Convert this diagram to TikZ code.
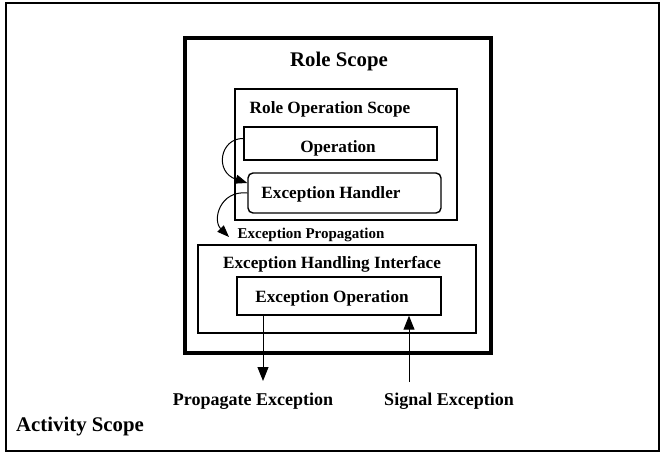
\documentclass[tikz,border=0pt]{standalone}
\usepackage{fontspec}
\setmainfont{Liberation Serif}
\usetikzlibrary{arrows.meta}
\tikzstyle{box} = [draw=black, line width=1.4pt, rectangle, inner sep=0pt]
\tikzstyle{scopebox} = [box, line width=3.2pt]
\tikzstyle{lbl} = [inner sep=0pt, anchor=base, font={\fontsize{17.2}{20}\selectfont\bfseries}]
\tikzstyle{big} = [font={\fontsize{20.8}{24}\selectfont\bfseries}]
\tikzstyle{small} = [font={\fontsize{15}{18}\selectfont\bfseries}]
\tikzstyle{outlbl} = [font={\fontsize{18}{21}\selectfont\bfseries}]
\tikzstyle{flow} = [line width=1pt, -{Triangle[width=11pt,length=14pt]}]
\tikzstyle{curvearrow} = [line width=1pt, -{Triangle[width=9pt,length=12pt]}]

\begin{document}
\begin{tikzpicture}[x=1pt,y=-1pt]
    \useasboundingbox (0,0) rectangle (663,455);
    % boxes
    \node[box,line width=2.6pt,minimum width=653,minimum height=448](act) at (332.5,227){};
    \node[scopebox,minimum width=306,minimum height=315](rs) at (338,195.5){};
    \node[box,line width=1.8pt,minimum width=222,minimum height=131](ros) at (346,154.5){};
    \node[box,minimum width=193,minimum height=33](op) at (340.5,143.5){};
    \node[box,rounded corners=5pt,minimum width=193,minimum height=40](eh) at (344.5,193){};
    \node[box,line width=1.8pt,minimum width=278,minimum height=88](ehi) at (337,289){};
    \node[box,minimum width=204,minimum height=38](eop) at (339,296){};
    % texts
    \node[lbl,big](rst) at (339,66){Role Scope};
    \node[lbl](rost) at (330,113){Role Operation Scope};
    \node[lbl](opt) at (338,152){Operation};
    \node[lbl](eht) at (331,198){Exception Handler};
    \node[lbl,small](ept) at (311,238){Exception Propagation};
    \node[lbl](ehit) at (332,268){Exception Handling Interface};
    \node[lbl](eopt) at (332,302){Exception Operation};
    \node[lbl,outlbl](pet) at (253,405){Propagate Exception};
    \node[lbl,outlbl](set) at (449,405){Signal Exception};
    \node[lbl,big,anchor=base west](actt) at (16,431){Activity Scope};
    % connectors
    \coordinate (pr) at (229,237);
    \coordinate (pe) at (263,381);
    \coordinate (se) at (409,382);
    \draw[curvearrow]([yshift=5pt]op.west) .. controls (220,138) and (214,172) .. ([yshift=10pt]eh.west);
    \draw[curvearrow](eh.west) .. controls (220,190) and (212,220) .. (pr);
    \draw[flow](eop.south -| pe)--(pe);
    \draw[flow](se)--(eop.south -| se);
  \end{tikzpicture}
\end{document}
